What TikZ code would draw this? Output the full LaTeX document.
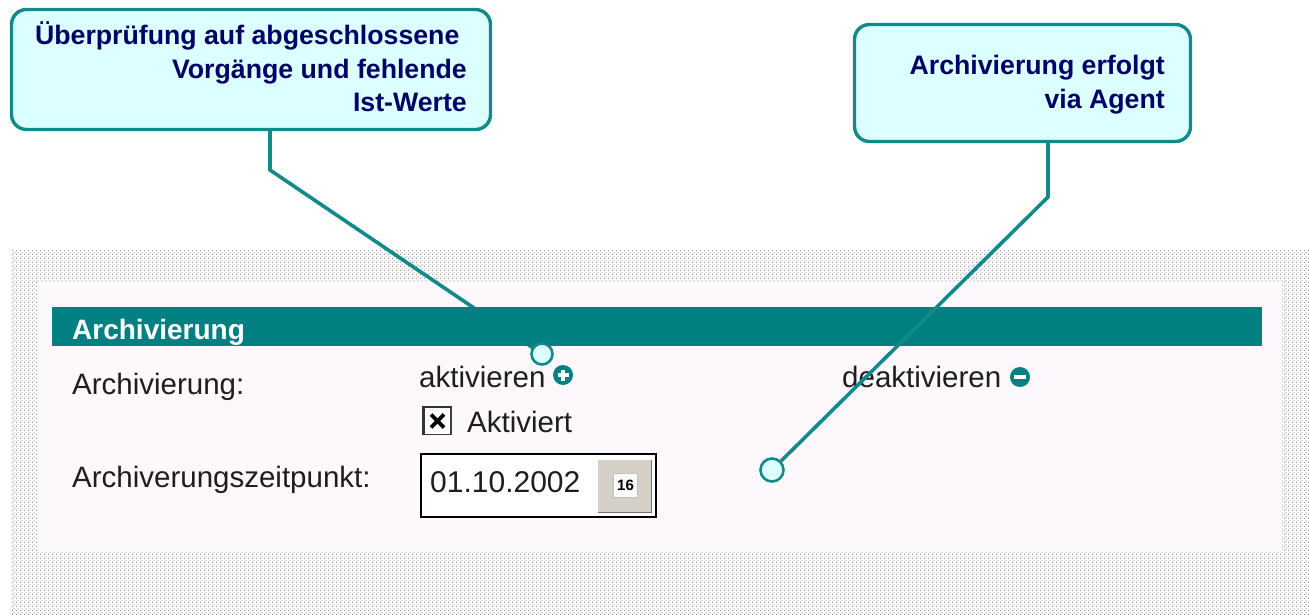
\documentclass[tikz,border=0pt]{standalone}
\usepackage{fontspec}
\setmainfont{Liberation Sans}
\usetikzlibrary{patterns.meta}
\definecolor{tealbar}{RGB}{0,128,128}
\definecolor{tealline}{RGB}{18,138,138}
\definecolor{cyanfill}{RGB}{220,255,255}
\definecolor{navytext}{RGB}{0,0,102}
\definecolor{uitext}{RGB}{30,30,30}
\definecolor{panelfill}{RGB}{252,248,252}
\definecolor{btngray}{RGB}{212,208,200}
\definecolor{dotgray}{RGB}{150,150,150}
\pgfdeclarepattern{name=bgdots, type=uncolored,
  bottom left={\pgfpoint{0pt}{0pt}}, top right={\pgfpoint{4pt}{4pt}},
  tile size={\pgfpoint{4pt}{4pt}},
  code={\pgfpathrectangle{\pgfpoint{0pt}{0pt}}{\pgfpoint{1.4pt}{1.4pt}}
        \pgfpathrectangle{\pgfpoint{2pt}{2pt}}{\pgfpoint{1.4pt}{1.4pt}}
        \pgfusepath{fill}}}
\begin{document}
\begin{tikzpicture}[x=1pt,y=-1pt,
  ui/.style={font=\fontsize{29.5}{34}\selectfont, text=uitext, inner sep=0, anchor=base west},
  calltext/.style={font=\bfseries\fontsize{26.7}{33}\selectfont, text=navytext, inner sep=0, anchor=base east},
  callbox/.style={draw=tealline, line width=3.4, fill=cyanfill, rounded corners=15, inner sep=0},
  conn/.style={draw=tealline, line width=3.6},
  enddot/.style={circle, draw=tealline, line width=2.6, fill=cyanfill, inner sep=0},
  iconc/.style={circle, fill=tealbar, inner sep=0, minimum size=20},
  iconbar/.style={draw=white, line width=3.6}
]
\useasboundingbox (0,0) rectangle (1309,615);
\fill[white] (0,0) rectangle (1309,615);
% dotted background
\fill[pattern=bgdots, pattern color=dotgray] (11,250) rectangle (1309,615);
% panel
\fill[panelfill] (37,282) rectangle (1282,552);

% callout 1 connector (hidden below the bar)
\node[callbox, minimum width=479, minimum height=120] (cb1) at (251,69.5) {};
\coordinate (k1) at (270,170);
\coordinate (d1) at (542,354);
\draw[conn] (cb1.south -| k1) -- (k1) -- (d1);

% title bar
\fill[tealbar] (52,307) rectangle (1262,346);
\node[font=\bfseries\fontsize{28}{32}\selectfont, text=white, inner sep=0, anchor=base west] (title) at (72,339) {Archivierung};

% labels
\node[ui] (lab1) at (72,394) {Archivierung:};
\node[ui] (lab2) at (72,487) {Archiverungszeitpunkt:};
\node[ui] (akt) at (419,387) {aktivieren};
\node[ui] (deakt) at (842,387) {deaktivieren};

% icons
\node[iconc] (plus) at (563,375) {};
\draw[iconbar] ([xshift=-5.5]plus.center) -- ([xshift=5.5]plus.center);
\draw[iconbar] ([yshift=-5.5]plus.center) -- ([yshift=5.5]plus.center);
\node[iconc] (minus) at (1020,377) {};
\draw[iconbar] ([xshift=-6]minus.center) -- ([xshift=6]minus.center);

% checkbox
\node[draw=black!75, line width=1.5, fill=white, minimum size=27, inner sep=0] (cbx) at (437.5,421) {};
\draw[black!80, line width=2.5] (cbx.south west) -- (cbx.north west) -- (cbx.north east);
\draw[black, line width=3.8] ([shift={(-6.5,-6.5)}]cbx.center) -- ([shift={(6.5,6.5)}]cbx.center);
\draw[black, line width=3.8] ([shift={(-6.5,6.5)}]cbx.center) -- ([shift={(6.5,-6.5)}]cbx.center);
\node[ui] (aktiv) at (467,432) {Aktiviert};

% date field
\node[draw=black, line width=2.6, fill=white, minimum width=235, minimum height=63, inner sep=0] (datef) at (538.5,485.5) {};
\node[ui, font=\fontsize{30}{34}\selectfont] (datet) at (430,492) {01.10.2002};
\node[fill=btngray, minimum width=53, minimum height=52, inner sep=0] (btn) at (624.5,486) {};
\draw[white, line width=1.2] (btn.south west) -- (btn.north west) -- (btn.north east);
\draw[black!55, line width=1.2] (btn.north east) -- (btn.south east) -- (btn.south west);
\node[fill=white!92!btngray, draw=black!25, line width=0.6, minimum width=24, minimum height=24, inner sep=0,
  font=\bfseries\fontsize{15}{16}\selectfont, text=black] (cal) at (625.5,485.5) {16};

% end dot of callout 1 (drawn over the bar)
\node[enddot, minimum size=21] (dot1) at (d1) {};

% callout 2
\node[callbox, minimum width=336, minimum height=117] (cb2) at (1022.5,83) {};
\node[enddot, minimum size=23] (dot2) at (772,470) {};
\coordinate (k2) at (1048,197);
\draw[conn] (cb2.south -| k2) -- (k2) -- (dot2);

% callout texts
\node[calltext] (t1a) at (467,45) {Überprüfung auf abgeschlossene\hspace*{0.278em}};
\node[calltext] (t1b) at (467,79) {Vorgänge und fehlende};
\node[calltext] (t1c) at (467,112) {Ist-Werte};
\node[calltext] (t2a) at (1165,75) {Archivierung erfolgt};
\node[calltext] (t2b) at (1165,109) {via Agent};
\end{tikzpicture}
\end{document}
